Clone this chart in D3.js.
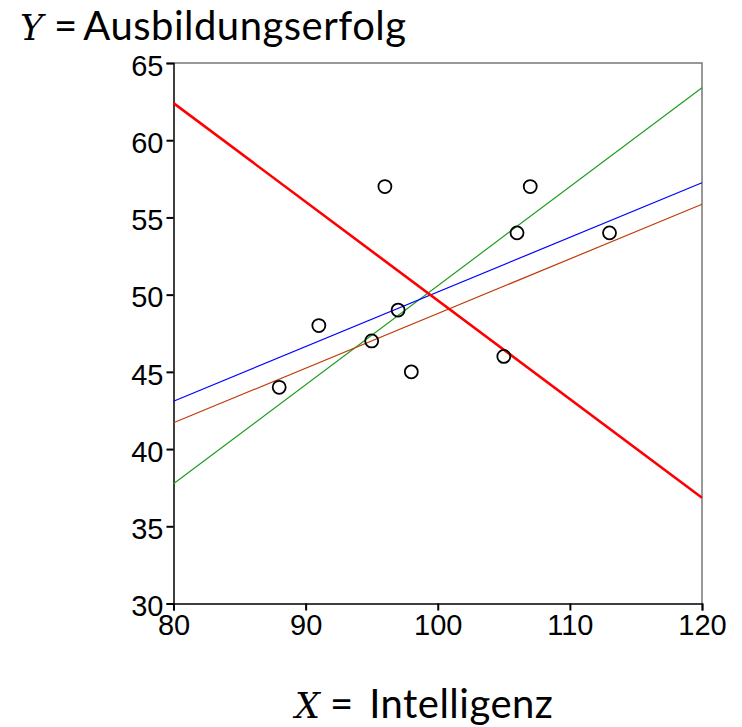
<!DOCTYPE html>
<html>
<head>
<meta charset="utf-8">
<script src="https://cdn.jsdelivr.net/npm/d3@7"></script>
<style>
  body { margin: 0; background: #fff; }
  svg { display: block; }
</style>
</head>
<body>
<svg width="742" height="727"></svg>
<script>
// data
var xVals = [88, 91, 95, 96, 97, 98, 105, 106, 107, 113];
var yVals = [44, 48, 47, 57, 49, 45, 46, 54, 57, 54];
var xTicks = [80, 90, 100, 110, 120];
var yTicks = [30, 35, 40, 45, 50, 55, 60, 65];

// lines: value at x=80 and at x=120
var lineNames = ["green", "blue", "brown", "red"];
var lineStart = [37.75, 43.1, 41.7, 62.4];
var lineEnd = [63.4, 57.25, 55.85, 36.85];
var lineColors = ["#1e9e1e", "#0000ff", "#c03c0c", "#ff0000"];
var lineWidths = [1.2, 1.2, 1.2, 2.6];

var svg = d3.select("svg");

var x = d3.scaleLinear().domain([80, 120]).range([173.5, 702]);
var y = d3.scaleLinear().domain([30, 65]).range([603.5, 63]);

// frame, gray top and right
svg.append("path")
  .attr("d", "M" + x(80) + "," + y(65) + "H" + x(120) + "V" + y(30))
  .attr("fill", "none")
  .attr("stroke", "#777")
  .attr("stroke-width", 1.5);

var xAxis = svg.append("g")
  .attr("transform", "translate(0," + y(30) + ")")
  .call(d3.axisBottom(x).tickValues(xTicks).tickSize(7).tickPadding(4));

var yAxis = svg.append("g")
  .attr("transform", "translate(" + x(80) + ",0)")
  .call(d3.axisLeft(y).tickValues(yTicks).tickSize(7).tickPadding(3));

[xAxis, yAxis].forEach(function (g) {
  g.select(".domain").attr("stroke", "#000").attr("stroke-width", 1.5);
  g.selectAll(".tick line").attr("stroke", "#000").attr("stroke-width", 2);
  g.selectAll(".tick text")
    .attr("fill", "#000")
    .style("font-family", "'Liberation Sans', Arial, sans-serif")
    .style("font-size", "29px");
});
yAxis.selectAll(".tick text").attr("dy", "0.42em");

// regression lines
var lines = lineNames.map(function (n, i) {
  return { name: n, a: lineStart[i], b: lineEnd[i], color: lineColors[i], w: lineWidths[i] };
});

svg.append("g").selectAll("line")
  .data(lines)
  .enter().append("line")
  .attr("x1", x(80))
  .attr("y1", function (d) { return y(d.a); })
  .attr("x2", x(120))
  .attr("y2", function (d) { return y(d.b); })
  .attr("stroke", function (d) { return d.color; })
  .attr("stroke-width", function (d) { return d.w; });

// data points
svg.append("g").selectAll("circle")
  .data(xVals.map(function (v, i) { return [v, yVals[i]]; }))
  .enter().append("circle")
  .attr("cx", function (d) { return x(d[0]); })
  .attr("cy", function (d) { return y(d[1]); })
  .attr("r", 6.5)
  .attr("fill", "none")
  .attr("stroke", "#000")
  .attr("stroke-width", 1.8);

// axis titles: italic symbol, then "= word" with relative shifts
// (font kept at 40px so the em box stays inside the page)
function title(xp, yp, sym, gaps, word) {
  var t = svg.append("text")
    .attr("x", xp)
    .attr("y", yp)
    .attr("fill", "#000");
  t.append("tspan")
    .style("font-family", "'DejaVu Serif', 'Liberation Serif', serif")
    .style("font-style", "italic")
    .style("font-size", "35px")
    .text(sym);
  t.append("tspan")
    .attr("dx", gaps[0])
    .style("font-family", "Lato, 'Open Sans', sans-serif")
    .style("font-size", "40px")
    .text("=");
  t.append("tspan")
    .attr("dx", gaps[1])
    .style("font-family", "Lato, 'Open Sans', sans-serif")
    .style("font-size", "40px")
    .style("letter-spacing", "0.5px")
    .text(word);
}
title(20, 39.5, "Y", [11, 6], "Ausbildungserfolg");
title(295, 718, "X", [10, 16], "Intelligenz");
</script>
</body>
</html>
